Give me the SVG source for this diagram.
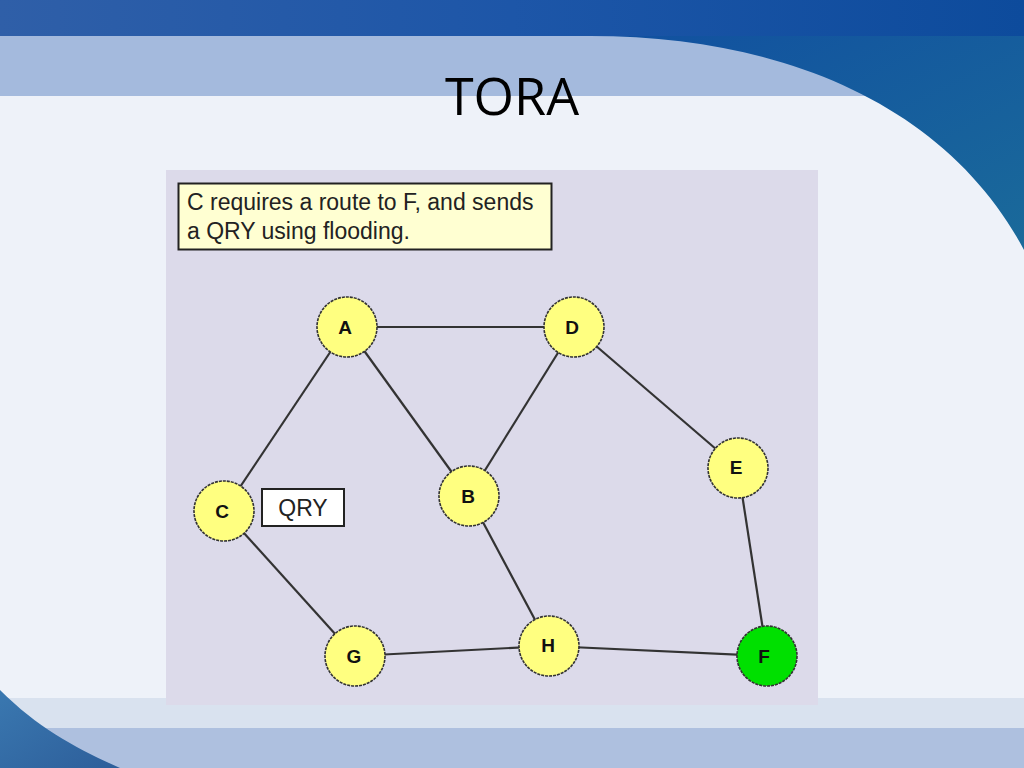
<svg xmlns="http://www.w3.org/2000/svg" width="1024" height="768" viewBox="0 0 1024 768">
<defs>
<linearGradient id="topg" x1="0" y1="0" x2="1" y2="0">
<stop offset="0" stop-color="#2f5fa8"/><stop offset="0.5" stop-color="#1d56a8"/><stop offset="1" stop-color="#0d4b9c"/>
</linearGradient>
<linearGradient id="curveg" x1="0" y1="0" x2="1" y2="1">
<stop offset="0" stop-color="#1150a0"/><stop offset="1" stop-color="#1a6a9a"/>
</linearGradient>
<linearGradient id="botg" x1="0" y1="0" x2="1" y2="1">
<stop offset="0" stop-color="#3a78b0"/><stop offset="1" stop-color="#2d5e9a"/>
</linearGradient>
<style>
.edge{stroke:#333;stroke-width:2.2;fill:none}
.node{stroke:#333;stroke-width:1.6;stroke-dasharray:3 1}
.yl{fill:#ffff80}
.gr{fill:#00e000}
.lbl{font-family:"Liberation Sans",Arial,sans-serif;font-weight:bold;font-size:19px;fill:#111;text-anchor:middle;dominant-baseline:central}
.txt{font-family:"Liberation Sans",Arial,sans-serif;font-size:23px;fill:#222}
</style>
</defs>
<!-- background -->
<rect width="1024" height="768" fill="#eef2f9"/>
<rect x="0" y="36" width="1024" height="60" fill="#a4badd"/>
<path d="M590,36 C790,36 950,110 1024,250 L1024,36 Z" fill="url(#curveg)"/>
<rect x="0" y="0" width="1024" height="36" fill="url(#topg)"/>
<rect x="0" y="698" width="1024" height="30" fill="#d9e2ef"/>
<rect x="0" y="728" width="1024" height="40" fill="#aec0df"/>
<path d="M0,690 C40,730 80,750 120,768 L0,768 Z" fill="url(#botg)"/>
<!-- title -->
<text x="512" y="115" font-family="Open Sans, Noto Sans, sans-serif" font-size="52" fill="#000" text-anchor="middle">TORA</text>
<!-- panel -->
<rect x="166" y="170" width="652" height="535" fill="#dcdaea"/>
<g id="note">
<rect x="178.5" y="183.5" width="373" height="66" fill="#ffffd2" stroke="#222" stroke-width="2"/>
<text class="txt" x="187" y="210">C requires a route to F, and sends</text>
<text class="txt" x="187" y="239">a QRY using flooding.</text>
</g>
<g id="connectors">
<line class="edge" x1="347" y1="327" x2="574" y2="327"/>
<line class="edge" x1="347" y1="327" x2="224" y2="511"/>
<line class="edge" x1="347" y1="327" x2="469" y2="496"/>
<line class="edge" x1="574" y1="327" x2="469" y2="496"/>
<line class="edge" x1="574" y1="327" x2="738" y2="468"/>
<line class="edge" x1="738" y1="468" x2="767" y2="656"/>
<line class="edge" x1="224" y1="511" x2="355" y2="656"/>
<line class="edge" x1="355" y1="656" x2="549" y2="646"/>
<line class="edge" x1="549" y1="646" x2="469" y2="496"/>
<line class="edge" x1="549" y1="646" x2="767" y2="656"/>
</g>
<g id="qry">
<rect x="262" y="489" width="82" height="37" fill="#fff" stroke="#222" stroke-width="2"/>
<text class="txt" x="303" y="516" text-anchor="middle">QRY</text>
</g>
<g id="node-A"><circle class="node yl" cx="347" cy="327" r="30"/><text class="lbl" x="345" y="327">A</text></g>
<g id="node-D"><circle class="node yl" cx="574" cy="327" r="30"/><text class="lbl" x="572" y="327">D</text></g>
<g id="node-E"><circle class="node yl" cx="738" cy="468" r="30"/><text class="lbl" x="736" y="467">E</text></g>
<g id="node-B"><circle class="node yl" cx="469" cy="496" r="30"/><text class="lbl" x="468" y="496">B</text></g>
<g id="node-C"><circle class="node yl" cx="224" cy="511" r="30"/><text class="lbl" x="222" y="511">C</text></g>
<g id="node-G"><circle class="node yl" cx="355" cy="656" r="30"/><text class="lbl" x="354" y="656">G</text></g>
<g id="node-H"><circle class="node yl" cx="549" cy="646" r="30"/><text class="lbl" x="548" y="645">H</text></g>
<g id="node-F"><circle class="node gr" cx="767" cy="656" r="30"/><text class="lbl" x="764" y="656">F</text></g>
</svg>
